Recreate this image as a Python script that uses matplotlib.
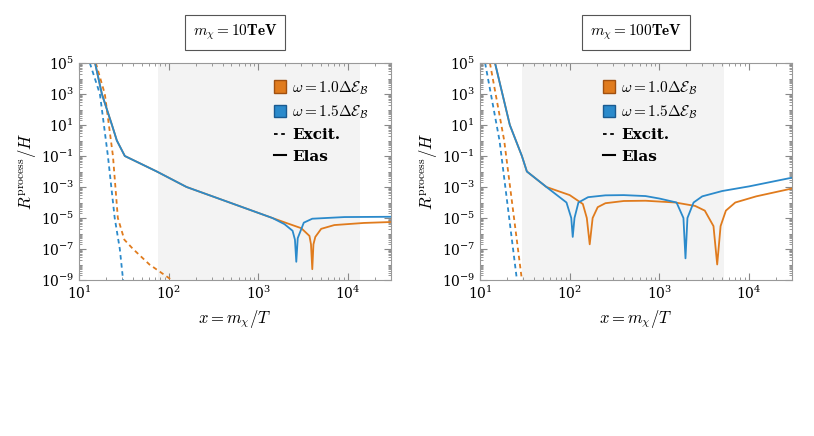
import matplotlib
matplotlib.use('Agg')
import matplotlib.pyplot as plt
import numpy as np
from matplotlib.patches import Patch
from matplotlib.lines import Line2D
from matplotlib.ticker import LogLocator, NullFormatter

plt.rcParams['mathtext.fontset'] = 'cm'
plt.rcParams['font.family'] = 'DejaVu Serif'

ORANGE = '#e07b1d'
BLUE = '#2b8acb'

# ---- left panel (m_chi = 10 TeV) ----
L_elas_b_x = [15.1, 18, 23.3, 26.4, 32.4, 73.6, 158, 476, 1430, 1950, 2400, 2550, 2640, 2740, 3200, 3980, 9100, 30000]
L_elas_b_y = [1e5, 1e3, 1e1, 1e0, 1e-1, 1e-2, 1e-3, 1e-4, 1e-5, 4e-6, 1.5e-6, 4e-7, 1.5e-8, 5e-7, 5e-6, 9e-6, 1.15e-5, 1.2e-5]
L_elas_o_x = [15.1, 18, 23.3, 26.4, 32.4, 73.6, 158, 476, 1430, 2000, 3000, 3700, 3850, 3980, 4100, 4300, 5000, 7000, 15000, 30000]
L_elas_o_y = [1e5, 1e3, 1e1, 1e0, 1e-1, 1e-2, 1e-3, 1e-4, 1e-5, 5e-6, 2.2e-6, 7e-7, 2e-7, 5e-9, 2e-7, 6e-7, 2e-6, 3.5e-6, 4.8e-6, 5.5e-6]
L_exc_b_x = [13.2, 17.1, 21, 25, 28.5, 31]
L_exc_b_y = [1e5, 1e3, 1e-1, 1e-5, 1e-7, 1e-9]
L_exc_o_x = [15.4, 19.4, 23.9, 27.1, 32, 40, 61, 108]
L_exc_o_y = [1e5, 1e3, 1e-1, 1e-5, 4e-7, 1e-7, 1e-8, 1e-9]
L_shade = (76, 13500)

# ---- right panel (m_chi = 100 TeV) ----
R_elas_b_x = [14.7, 21.5, 29.3, 33.3, 55, 92, 104, 108, 113, 125, 160, 250, 400, 700, 1000, 1550, 1850, 1950, 2050, 2400, 3000, 5000, 10000, 30000]
R_elas_b_y = [1e5, 1e1, 1e-1, 1e-2, 1e-3, 1e-4, 1e-5, 6e-7, 1e-5, 1e-4, 2.2e-4, 2.9e-4, 3e-4, 2.6e-4, 1.8e-4, 1e-4, 1e-5, 2.5e-8, 1e-5, 1e-4, 2.5e-4, 5.5e-4, 1.1e-3, 4e-3]
R_elas_o_x = [14.7, 21.5, 29.3, 33.3, 55, 100, 140, 155, 167, 180, 205, 250, 400, 700, 1500, 2500, 3200, 4000, 4400, 4800, 5500, 7000, 12000, 30000]
R_elas_o_y = [1e5, 1e1, 1e-1, 1e-2, 1e-3, 3e-4, 8e-5, 1e-5, 2e-7, 1e-5, 5e-5, 9e-5, 1.25e-4, 1.3e-4, 1e-4, 6e-5, 3e-5, 3e-6, 1e-8, 3e-6, 3e-5, 1e-4, 2.5e-4, 8e-4]
R_exc_b_x = [11.4, 16.5, 25.8]
R_exc_b_y = [1e5, 1e0, 1e-9]
R_exc_o_x = [12.9, 18.6, 29.3]
R_exc_o_y = [1e5, 1e0, 1e-9]
R_shade = (29.5, 5200)

titles = [r'$m_\chi = 10\mathbf{TeV}$', r'$m_\chi = 100\mathbf{TeV}$']
leg_labels = [r'$\omega = 1.0\mathbf{\Delta}\mathcal{E}_\mathcal{B}$',
              r'$\omega = 1.5\mathbf{\Delta}\mathcal{E}_\mathcal{B}$', 'Excit.', 'Elas']

fig = plt.figure(figsize=(8.14, 4.36), dpi=100)
axL = fig.add_axes([79/814, 1-280/436, 312/814, 217/436])
axR = fig.add_axes([480/814, 1-280/436, 312/814, 217/436])

panels = [
    (axL, L_elas_o_x, L_elas_o_y, L_elas_b_x, L_elas_b_y, L_exc_o_x, L_exc_o_y, L_exc_b_x, L_exc_b_y, L_shade, 0.58),
    (axR, R_elas_o_x, R_elas_o_y, R_elas_b_x, R_elas_b_y, R_exc_o_x, R_exc_o_y, R_exc_b_x, R_exc_b_y, R_shade, 0.35),
]
for i, (ax, eox, eoy, ebx, eby, xox, xoy, xbx, xby, sh, lx) in enumerate(panels):
    ax.axvspan(sh[0], sh[1], color='#f3f3f3', zorder=0, lw=0)
    ax.plot(xox, xoy, color=ORANGE, ls=(0, (2.5, 2)), lw=1.3)
    ax.plot(xbx, xby, color=BLUE, ls=(0, (2.5, 2)), lw=1.3)
    ax.plot(eox, eoy, color=ORANGE, lw=1.3)
    ax.plot(ebx, eby, color=BLUE, lw=1.3)
    ax.set_xscale('log'); ax.set_yscale('log')
    ax.set_xlim(10, 3e4); ax.set_ylim(1e-9, 1e5)
    ax.set_yticks([10.0**k for k in range(-9, 6, 2)])
    ax.yaxis.set_minor_locator(LogLocator(base=10, subs=np.arange(1, 10), numticks=40))
    ax.yaxis.set_minor_formatter(NullFormatter())
    ax.xaxis.set_minor_locator(LogLocator(base=10, subs=np.arange(2, 10), numticks=40))
    ax.xaxis.set_minor_formatter(NullFormatter())
    ax.tick_params(which='both', direction='in', top=True, right=True, color='#888888')
    ax.tick_params(which='major', length=5, labelsize=10)
    ax.tick_params(which='minor', length=2.5)
    for s in ax.spines.values():
        s.set_color('#999999')
    ax.set_xlabel(r'$x = m_\chi/T$', fontsize=12)
    ax.set_ylabel(r'$R^{\mathrm{process}}/H$', fontsize=12, labelpad=2)
    ax.text(0.5, 1.14, titles[i], transform=ax.transAxes, ha='center', va='center', fontsize=11,
            bbox=dict(boxstyle='square,pad=0.5', fc='white', ec='#555555', lw=0.8))
    handles = [Patch(fc=ORANGE, ec='#a05010'), Patch(fc=BLUE, ec='#1a5a90'),
               Line2D([], [], color='black', ls=(0, (2, 2)), lw=1.3),
               Line2D([], [], color='black', lw=1.5)]
    leg = ax.legend(handles, leg_labels, loc='upper left', bbox_to_anchor=(lx, 0.99), frameon=False,
                    fontsize=11, handlelength=0.8, handleheight=0.9, handletextpad=0.4, labelspacing=0.45)
    for t in leg.get_texts()[2:]:
        t.set_fontweight('bold')

fig.savefig('out.png', dpi=100)
